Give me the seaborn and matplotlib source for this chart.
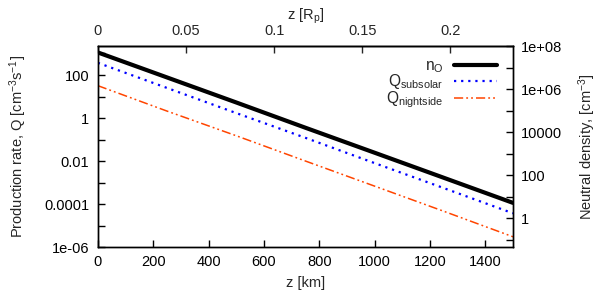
import numpy as np
import pandas as pd
import matplotlib
matplotlib.use("Agg")
import matplotlib.pyplot as plt
import seaborn as sns

# altitude grid [km] and values
z_km = [0, 250, 500, 750, 1000, 1250, 1500]
n_o = [5.1e7, 3.5e6, 2.4e5, 1.6e4, 1.1e3, 75, 5.1]            # neutral density [cm^-3]
q_subsolar = [370, 25, 1.7, 0.12, 8.0e-3, 5.5e-4, 3.7e-5]      # production rate
q_nightside = [32, 2.1, 0.15, 0.01, 6.8e-4, 4.6e-5, 3.0e-6]

RP_KM = 6371.0

left_ticks = [1e-6, 1e-4, 1e-2, 1, 100]
left_labels = ["1e-06", "0.0001", "0.01", "1", "100"]
right_ticks = [1, 100, 1e4, 1e6, 1e8]
right_labels = ["1", "100", "10000", "1e+06", "1e+08"]
bottom_ticks = [0, 200, 400, 600, 800, 1000, 1200, 1400]
top_ticks = [0, 0.05, 0.1, 0.15, 0.2]
top_labels = ["0", "0.05", "0.1", "0.15", "0.2"]

sns.set_style("ticks")
plt.rcParams["font.family"] = ["Liberation Sans", "DejaVu Sans"]
plt.rcParams["mathtext.default"] = "regular"
plt.rcParams["font.size"] = 10.5
plt.rcParams["axes.edgecolor"] = "black"
plt.rcParams["axes.linewidth"] = 1.0

df = pd.DataFrame({"z": z_km, "n_o": n_o, "q_sub": q_subsolar, "q_night": q_nightside})

fig = plt.figure(figsize=(6.0, 2.92), dpi=100)
ax = fig.add_axes([0.163, 0.154, 0.692, 0.688])
ax2 = ax.twinx()

sns.lineplot(data=df, x="z", y="q_sub", ax=ax, color="#0000ff", lw=1.6,
             linestyle=(0, (1.0, 2.2)), legend=False)
sns.lineplot(data=df, x="z", y="q_night", ax=ax, color="#ff4500", lw=1.1,
             linestyle=(0, (6, 2, 1.2, 2, 1.2, 2)), legend=False)
sns.lineplot(data=df, x="z", y="n_o", ax=ax2, color="black", lw=3.0, legend=False)

ax.set_yscale("log")
ax2.set_yscale("log")
ax.set_xlim(0, 1500)
ax.set_ylim(1e-6, 2.2e3)
ax2.set_ylim(0.045, 1e8)

ax.set_yticks(left_ticks)
ax.set_yticklabels(left_labels)
ax.set_yticks([1e-5, 1e-3, 0.1, 10, 1000], minor=True)
ax.yaxis.set_minor_formatter(matplotlib.ticker.NullFormatter())
ax2.set_yticks(right_ticks)
ax2.set_yticklabels(right_labels)
ax2.set_yticks([0.1, 10, 1e3, 1e5, 1e7], minor=True)
ax2.yaxis.set_minor_formatter(matplotlib.ticker.NullFormatter())
ax.set_xticks(bottom_ticks)

for a in (ax, ax2):
    a.tick_params(which="both", direction="in", length=5, width=1, color="black",
                  labelcolor="black", pad=6)

ax.set_xlabel("z [km]", labelpad=5)
ax.set_ylabel("Production rate, Q [cm$^{-3}$s$^{-1}$]", labelpad=11)
ax2.set_ylabel("Neutral density, [cm$^{-3}$]", labelpad=10)

top = ax.secondary_xaxis("top", functions=(lambda z: z / RP_KM, lambda r: r * RP_KM))
top.set_xticks(top_ticks)
top.set_xticklabels(top_labels)
top.tick_params(direction="in", length=5, width=1, pad=6)
top.set_xlabel("z [R$_p$]", labelpad=3)

handles = ax2.get_lines()[:1] + ax.get_lines()[:2]
labels = ["n$_O$", "Q$_{subsolar}$", "Q$_{nightside}$"]
ax2.legend(handles, labels, loc="upper right", markerfirst=False, frameon=False,
           bbox_to_anchor=(0.995, 1.01), handlelength=2.75, labelspacing=-0.15,
           handletextpad=0.7, fontsize=11.2)

for s in ax.spines.values():
    s.set_color("black")

fig.savefig("out.png", dpi=100)
